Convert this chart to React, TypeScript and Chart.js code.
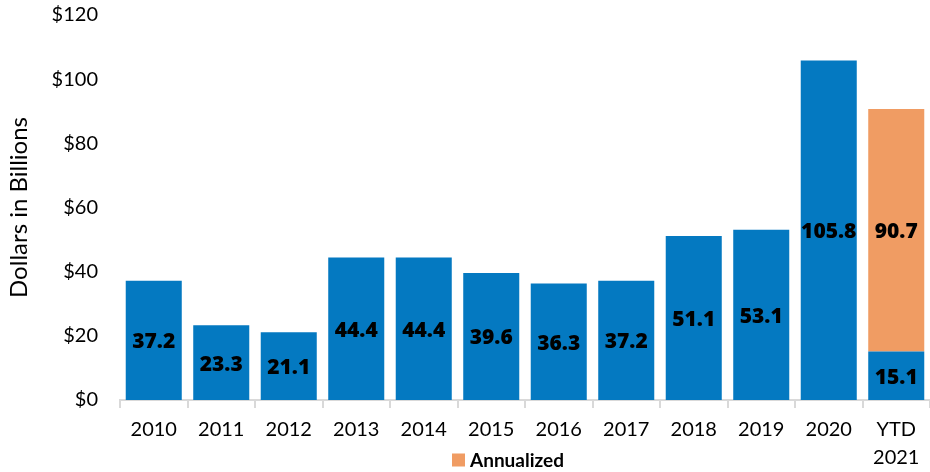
import React, { useEffect, useRef } from "react";
import { Chart, registerables } from "chart.js";

Chart.register(...registerables);

const categories: (string | string[])[] = [
  "2010", "2011", "2012", "2013", "2014", "2015", "2016", "2017", "2018", "2019", "2020", ["YTD", "2021"],
];
const actualValues = [37.2, 23.3, 21.1, 44.4, 44.4, 39.6, 36.3, 37.2, 51.1, 53.1, 105.8, 15.1];
const annualizedTotal = 90.7;
const annualizedValues: (number | null)[] = [null, null, null, null, null, null, null, null, null, null, null,
  Math.round((annualizedTotal - actualValues[11]) * 10) / 10];
const annualizedLabels: (number | null)[] = [null, null, null, null, null, null, null, null, null, null, null, annualizedTotal];
const yTicks = [0, 20, 40, 60, 80, 100, 120];

const BLUE = "#0479c1";
const ORANGE = "#f09c63";
const FONT = "Lato, 'Open Sans', sans-serif";
const BOLD_FONT = "'Open Sans', Lato, sans-serif";

export default function App() {
  const ref = useRef<HTMLCanvasElement | null>(null);
  useEffect(() => {
    if (!ref.current) return;
    const labelPlugin = {
      id: "barLabels",
      afterDatasetsDraw(chart: any) {
        const ctx = chart.ctx;
        ctx.save();
        ctx.font = `800 21px ${BOLD_FONT}`;
        ctx.fillStyle = "#000";
        ctx.textAlign = "center";
        ctx.textBaseline = "middle";
        chart.data.datasets.forEach((ds: any, di: number) => {
          const meta = chart.getDatasetMeta(di);
          meta.data.forEach((el: any, i: number) => {
            const v = ds.data[i];
            if (v == null) return;
            const txt = di === 0 ? actualValues[i] : annualizedLabels[i];
            if (txt == null) return;
            const y = (el.y + el.base) / 2;
            ctx.fillText(Number(txt).toFixed(1), el.x, y + 2);
          });
        });
        ctx.restore();
      },
      afterDraw(chart: any) {
        const ctx = chart.ctx;
        const ca = chart.chartArea;
        const cx = (ca.left + ca.right) / 2 - 17;
        ctx.save();
        ctx.font = `bold 19px ${FONT}`;
        const label = "Annualized";
        const tw = ctx.measureText(label).width;
        const box = 13;
        const gap = 5;
        const total = box + gap + tw;
        const x0 = cx - total / 2;
        const y = chart.height - 12;
        ctx.fillStyle = ORANGE;
        ctx.fillRect(x0, y - box / 2, box, box);
        ctx.fillStyle = "#000";
        ctx.textAlign = "left";
        ctx.textBaseline = "middle";
        ctx.fillText(label, x0 + box + gap, y + 1);
        ctx.restore();
      },
    };
    const chart = new Chart(ref.current, {
      type: "bar",
      data: {
        labels: categories,
        datasets: [
          {
            label: "Actual",
            data: actualValues,
            backgroundColor: BLUE,
            barPercentage: 0.83,
            categoryPercentage: 1,
            stack: "s",
          },
          {
            label: "Annualized",
            data: annualizedValues,
            backgroundColor: ORANGE,
            barPercentage: 0.83,
            categoryPercentage: 1,
            stack: "s",
          },
        ],
      },
      options: {
        animation: false,
        responsive: false,
        maintainAspectRatio: false,
        layout: { padding: { top: 15, right: 0, bottom: 0, left: 0 } },
        plugins: {
          legend: { display: false },
          tooltip: { enabled: false },
        },
        scales: {
          x: {
            stacked: true,
            offset: true,
            grid: {
              display: true,
              drawOnChartArea: false,
              drawTicks: true,
              tickLength: 8,
              color: "#d9d9d9",
              lineWidth: 2,
              offset: true,
            },
            border: { display: true, color: "#d9d9d9", width: 2 },
            ticks: {
              color: "#000",
              font: { family: FONT, size: 20, lineHeight: 1.4 },
              padding: 8,
              maxRotation: 0,
              autoSkip: false,
            },
            afterFit(scale: any) {
              scale.height = 72;
            },
          },
          y: {
            stacked: true,
            min: 0,
            max: 120,
            afterBuildTicks(scale: any) {
              scale.ticks = yTicks.map((v) => ({ value: v }));
            },
            grid: { display: false, drawTicks: false },
            border: { display: false },
            ticks: {
              color: "#000",
              font: { family: FONT, size: 20 },
              padding: 22,
              callback: (v: any) => "$" + v,
            },
            title: {
              display: true,
              text: "Dollars in Billions",
              color: "#000",
              font: { family: FONT, size: 24 },
              padding: { top: 5, bottom: 0 },
            },
            afterFit(scale: any) {
              scale.width = 120;
              scale.paddingTop = 0;
              scale.paddingBottom = 0;
            },
          },
        },
      },
      plugins: [labelPlugin],
    });
    return () => chart.destroy();
  }, []);
  return (
    <div style={{ position: "absolute", left: 0, top: 0, width: 930, height: 472 }}>
      <canvas ref={ref} width={930} height={472} style={{ width: 930, height: 472 }} />
    </div>
  );
}
